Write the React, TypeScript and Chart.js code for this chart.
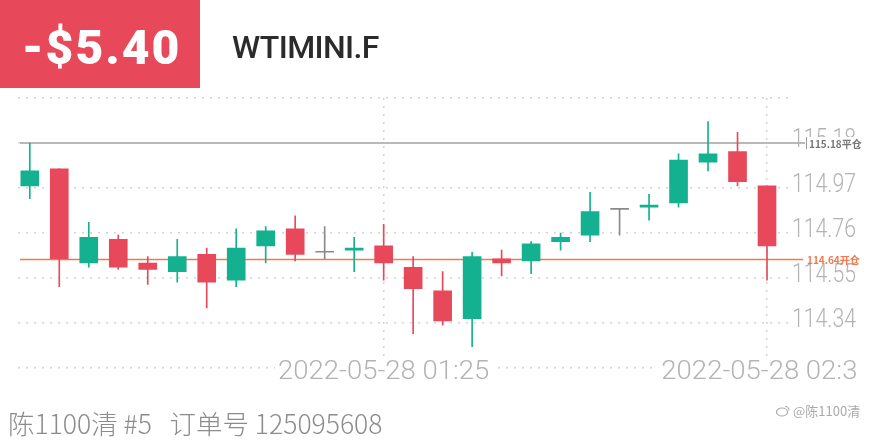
import React, { useEffect, useRef } from "react";
import { Chart, registerables } from "chart.js";

Chart.register(...registerables);

// ---- data ----
const times = [
  "00:25", "00:30", "00:35", "00:40", "00:45", "00:50", "00:55", "01:00", "01:05", "01:10",
  "01:15", "01:20", "01:25", "01:30", "01:35", "01:40", "01:45", "01:50", "01:55", "02:00",
  "02:05", "02:10", "02:15", "02:20", "02:25", "02:30",
];
const dateLabel = "2022-05-28";
const opens = [
  114.98, 115.06, 114.62, 114.73, 114.62, 114.58, 114.66, 114.54, 114.70, 114.78,
  114.67, 114.68, 114.70, 114.60, 114.49, 114.36, 114.64, 114.63, 114.72, 114.75,
  114.87, 114.88, 114.90, 115.09, 115.14, 114.98,
];
const highs = [
  115.18, 115.06, 114.81, 114.75, 114.65, 114.73, 114.69, 114.78, 114.79, 114.84,
  114.79, 114.74, 114.80, 114.65, 114.58, 114.67, 114.68, 114.72, 114.76, 114.95,
  114.87, 114.94, 115.13, 115.28, 115.23, 114.98,
];
const lows = [
  114.92, 114.51, 114.60, 114.59, 114.52, 114.53, 114.41, 114.51, 114.62, 114.63,
  114.64, 114.58, 114.54, 114.29, 114.33, 114.23, 114.56, 114.57, 114.68, 114.72,
  114.75, 114.82, 114.88, 115.05, 114.98, 114.54,
];
const closes = [
  115.05, 114.64, 114.74, 114.60, 114.59, 114.65, 114.53, 114.69, 114.77, 114.66,
  114.67, 114.69, 114.62, 114.50, 114.35, 114.65, 114.62, 114.71, 114.74, 114.86,
  114.87, 114.89, 115.10, 115.13, 115.00, 114.70,
];
const yGridTicks = [114.13, 114.34, 114.55, 114.76, 114.97, 115.18, 115.39];
const yLabelTicks = [114.34, 114.55, 114.76, 114.97, 115.18];
const xTickIndices = [12, 25];
const openPrice = 114.64;
const closePrice = 115.18;
const openTag = "114.64开仓";
const closeTag = "115.18平仓";
const pnlText = "-$5.40";
const symbolText = "WTIMINI.F";
const footerText = "陈1100清 #5   订单号 125095608";
const watermarkText = "@陈1100清";

// ---- styles ----
const UP = "#13b18f";
const DOWN = "#e8495a";
const FLAT = "#8a8a8a";
const GRID = "#d2d2d2";
const AXIS_TEXT = "#b3b3b3";
const ORANGE = "#f2794b";

const candleColor = (i: number) =>
  closes[i] > opens[i] ? UP : closes[i] < opens[i] ? DOWN : FLAT;

const overlayPlugin = {
  id: "overlay",
  beforeDatasetsDraw(chart: any) {
    const { ctx, chartArea, scales } = chart;
    const y = scales.y;
    ctx.save();
    const yc = Math.round(y.getPixelForValue(closePrice));
    ctx.strokeStyle = "#b9b9b9";
    ctx.lineWidth = 2;
    ctx.beginPath();
    ctx.moveTo(chartArea.left + 2, yc);
    ctx.lineTo(805, yc);
    ctx.stroke();
    const yo = Math.round(y.getPixelForValue(openPrice)) + 0.5;
    ctx.strokeStyle = ORANGE;
    ctx.lineWidth = 1.5;
    ctx.beginPath();
    ctx.moveTo(chartArea.left + 2, yo);
    ctx.lineTo(803, yo);
    ctx.stroke();
    ctx.restore();
  },
  afterDraw(chart: any) {
    const { ctx, scales } = chart;
    const y = scales.y;
    const x = scales.x;
    ctx.save();
    ctx.fillStyle = AXIS_TEXT;
    ctx.font = "300 25px Roboto";
    ctx.textBaseline = "middle";
    ctx.textAlign = "left";
    yLabelTicks.forEach((v) => {
      const py = y.getPixelForValue(v) - 2;
      ctx.save();
      ctx.translate(792, py);
      ctx.scale(0.85, 1);
      ctx.fillText(v.toFixed(2), 0, 0);
      ctx.restore();
    });
    const yc = Math.round(y.getPixelForValue(closePrice));
    ctx.fillStyle = "#ffffff";
    ctx.fillRect(805, yc - 6, 58, 13);
    ctx.strokeStyle = "#999";
    ctx.lineWidth = 1;
    ctx.beginPath();
    ctx.moveTo(806.5, yc - 6);
    ctx.lineTo(806.5, yc + 6);
    ctx.stroke();
    ctx.fillStyle = "#777";
    ctx.font = "bold 10px 'Noto Sans CJK SC', Roboto";
    ctx.textBaseline = "middle";
    ctx.fillText(closeTag, 809, yc + 1);
    const yo = Math.round(y.getPixelForValue(openPrice));
    ctx.fillStyle = ORANGE;
    ctx.fillText(openTag, 807, yo + 1);
    ctx.font = "300 25px Roboto";
    ctx.textAlign = "center";
    xTickIndices.forEach((i) => {
      const px = x.getPixelForValue(i);
      const text = dateLabel + " " + times[i];
      const w = ctx.measureText(text).width * 1.1;
      ctx.save();
      ctx.beginPath();
      ctx.rect(0, 350, 857, 40);
      ctx.clip();
      ctx.fillStyle = "#ffffff";
      ctx.fillRect(px - w / 2 - 3, 360, w + 6, 24);
      ctx.translate(px, 373);
      ctx.scale(1.1, 1);
      ctx.fillStyle = AXIS_TEXT;
      ctx.fillText(text, 0, 0);
      ctx.restore();
    });
    ctx.restore();
  },
};

export default function App() {
  const ref = useRef<HTMLCanvasElement | null>(null);
  useEffect(() => {
    if (!ref.current) return;
    const colors = opens.map((_, i) => candleColor(i));
    const chart = new Chart(ref.current, {
      type: "bar",
      data: {
        datasets: [
          {
            label: "wick",
            data: lows.map((l, i) => ({ x: i, y: [l, highs[i]] })) as any,
            backgroundColor: colors,
            barThickness: 1,
            grouped: false,
            order: 2,
          } as any,
          {
            label: "body",
            data: opens.map((o, i) => ({ x: i, y: [o, closes[i]] })) as any,
            backgroundColor: colors,
            barThickness: 18,
            minBarLength: 1,
            grouped: false,
            order: 1,
          } as any,
        ],
      },
      options: {
        responsive: false,
        animation: false,
        layout: { padding: { top: 98, left: 18, right: 0, bottom: 0 } },
        plugins: { legend: { display: false }, tooltip: { enabled: false } },
        scales: {
          x: {
            type: "linear",
            min: -0.4,
            max: 25.8,
            offset: false,
            afterBuildTicks: (s: any) => {
              s.ticks = xTickIndices.map((v) => ({ value: v }));
            },
            afterFit: (s: any) => {
              s.height = 72;
            },
            ticks: { display: false },
            grid: { color: GRID, lineWidth: 1.5, drawTicks: false, offset: false },
            border: { display: false, dash: [2, 6] },
          },
          y: {
            position: "right",
            min: 114.13,
            max: 115.39,
            afterBuildTicks: (s: any) => {
              s.ticks = yGridTicks.map((v) => ({ value: v }));
            },
            afterFit: (s: any) => {
              s.width = 75.4;
            },
            ticks: { display: false },
            grid: { color: GRID, lineWidth: 1.5, drawTicks: false },
            border: { display: false, dash: [2, 6] },
          },
        },
      } as any,
      plugins: [overlayPlugin],
    });
    return () => chart.destroy();
  }, []);

  return (
    <div
      style={{
        position: "absolute",
        left: 0,
        top: 0,
        width: 880,
        height: 440,
        background: "#fff",
        overflow: "hidden",
      }}
    >
      <canvas
        ref={ref}
        width={866}
        height={440}
        style={{ position: "absolute", left: 0, top: 0 }}
      />
      <div
        style={{
          position: "absolute",
          left: 0,
          top: 0,
          width: 200,
          height: 88,
          background: DOWN,
        }}
      />
      <div
        style={{
          position: "absolute",
          left: 22,
          top: 24,
          fontFamily: "Roboto",
          fontWeight: 900,
          fontSize: 48,
          lineHeight: "48px",
          letterSpacing: 2,
          color: "#fff",
          whiteSpace: "nowrap",
        }}
      >
        {pnlText}
      </div>
      <div
        style={{
          position: "absolute",
          left: 232,
          top: 31,
          fontFamily: "Roboto",
          fontWeight: 500,
          fontSize: 32,
          lineHeight: "33px",
          letterSpacing: -0.6,
          color: "#2b2b2b",
          whiteSpace: "nowrap",
        }}
      >
        {symbolText}
      </div>
      <div
        style={{
          position: "absolute",
          left: 8,
          top: 408,
          fontFamily: "'Noto Sans CJK SC'",
          fontWeight: 300,
          fontSize: 26.5,
          lineHeight: "30px",
          color: "#8c8c8c",
          whiteSpace: "pre",
        }}
      >
        {footerText}
      </div>
      <div
        style={{
          position: "absolute",
          left: 776,
          top: 402,
          fontFamily: "'Noto Sans CJK SC'",
          fontSize: 13,
          lineHeight: "18px",
          color: "#aaa",
          whiteSpace: "nowrap",
          display: "flex",
          alignItems: "center",
          gap: 3,
        }}
      >
        <svg width="14" height="12" viewBox="0 0 14 12">
          <ellipse cx="6" cy="7" rx="5.5" ry="4" fill="none" stroke="#aaa" strokeWidth="1.2" />
          <path d="M9 1.5 A4 4 0 0 1 13 5.5" fill="none" stroke="#aaa" strokeWidth="1.2" />
        </svg>
        <span>{watermarkText}</span>
      </div>
    </div>
  );
}
